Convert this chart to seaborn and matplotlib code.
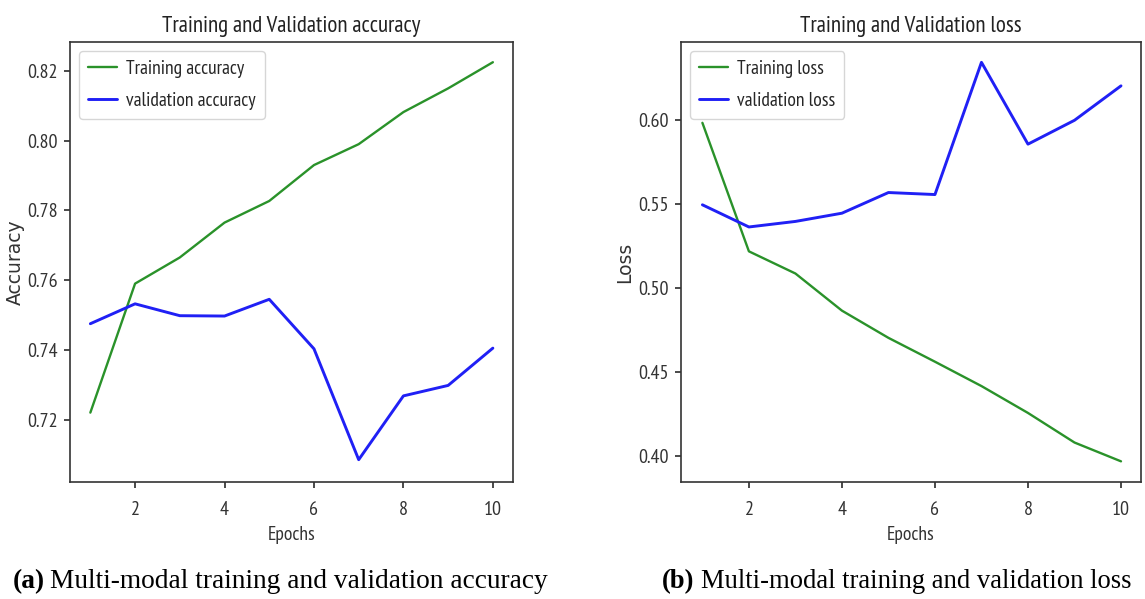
import matplotlib
matplotlib.use("Agg")
import matplotlib.pyplot as plt
import seaborn as sns
import pandas as pd
from matplotlib import font_manager as fm

epochs = [1, 2, 3, 4, 5, 6, 7, 8, 9, 10]
train_acc = [0.722, 0.759, 0.7665, 0.7765, 0.7827, 0.793, 0.799, 0.8082, 0.815, 0.8225]
val_acc = [0.7475, 0.7532, 0.7498, 0.7497, 0.7545, 0.7403, 0.7085, 0.7268, 0.7298, 0.7405]
train_loss = [0.5985, 0.522, 0.5088, 0.4867, 0.4705, 0.4563, 0.4418, 0.4258, 0.4082, 0.397]
val_loss = [0.5497, 0.5365, 0.5398, 0.5447, 0.5570, 0.5558, 0.6345, 0.5858, 0.6000, 0.6205]

sns.set_theme(style="ticks")
names = {f.name for f in fm.fontManager.ttflist}
fam = "DejaVu Sans"
for cand in ["PT Sans Narrow", "Roboto Condensed", "Fira Sans Condensed"]:
    if cand in names:
        fam = cand
        break
plt.rcParams["font.family"] = [fam, "DejaVu Sans"]
if fam == "DejaVu Sans":
    plt.rcParams["font.stretch"] = "condensed"

W, H = 1145, 599
fig = plt.figure(figsize=(W / 100, H / 100), dpi=100)

def make_ax(l, r, t, b):
    return fig.add_axes([l / W, (H - b) / H, (r - l) / W, (b - t) / H])

ax1 = make_ax(70, 513, 42, 482)
ax2 = make_ax(681, 1141, 42, 482)

df_acc = pd.DataFrame({"Epochs": epochs * 2,
                       "value": train_acc + val_acc,
                       "series": ["Training accuracy"] * 10 + ["validation accuracy"] * 10})
df_loss = pd.DataFrame({"Epochs": epochs * 2,
                        "value": train_loss + val_loss,
                        "series": ["Training loss"] * 10 + ["validation loss"] * 10})

for ax, df, title, ylab, labels in [
    (ax1, df_acc, "Training and Validation accuracy", "Accuracy", ["Training accuracy", "validation accuracy"]),
    (ax2, df_loss, "Training and Validation loss", "Loss", ["Training loss", "validation loss"]),
]:
    sns.lineplot(data=df, x="Epochs", y="value", hue="series", hue_order=labels,
                 palette=["#2a922a", "#2020f5"], size="series", sizes=[1.7, 2.1],
                 size_order=labels, ax=ax, legend=True)
    ax.set_title(title, fontsize=16.6, color="#222222", pad=7)
    ax.set_xlabel("Epochs", fontsize=14, color="#333333", labelpad=5.5)
    ax.set_ylabel(ylab, fontsize=13.5, color="#333333", family="DejaVu Sans")
    ax.yaxis.set_label_coords(-0.102, 0.5)
    ax.set_xticks([2, 4, 6, 8, 10])
    ax.tick_params(labelsize=14.5, colors="#333333", length=4.5)
    ax.tick_params(axis="x", pad=9)
    ax.tick_params(axis="y", pad=4)
    for s in ax.spines.values():
        s.set_visible(True)
        s.set_color("#333333")
        s.set_linewidth(1.2)
    h, l = ax.get_legend_handles_labels()
    ax.legend(h, l, loc="upper left", fontsize=14, frameon=True, title=None,
              handlelength=1.5, handletextpad=0.5, borderpad=0.45,
              borderaxespad=0.45, labelspacing=0.75)

ax1.set_ylim(0.7021, 0.8283)
ax1.set_yticks([0.72, 0.74, 0.76, 0.78, 0.80, 0.82])
ax1.set_xlim(0.545, 10.45)
ax2.set_ylim(0.3847, 0.6466)
ax2.set_yticks([0.40, 0.45, 0.50, 0.55, 0.60])
ax2.set_xlim(0.54, 10.43)

cap_kw = dict(family="Liberation Serif", stretch="normal", color="black", va="baseline")
fig.text(13 / W, 1 - 588 / H, "(a)", fontweight="bold", fontsize=19.7, **cap_kw)
fig.text(50 / W, 1 - 588 / H, "Multi-modal training and validation accuracy", fontsize=19.7, **cap_kw)
fig.text(662 / W, 1 - 588 / H, "(b)", fontweight="bold", fontsize=19.2, **cap_kw)
fig.text(701 / W, 1 - 588 / H, "Multi-modal training and validation loss", fontsize=19.2, **cap_kw)

fig.savefig("out.png", dpi=100)
